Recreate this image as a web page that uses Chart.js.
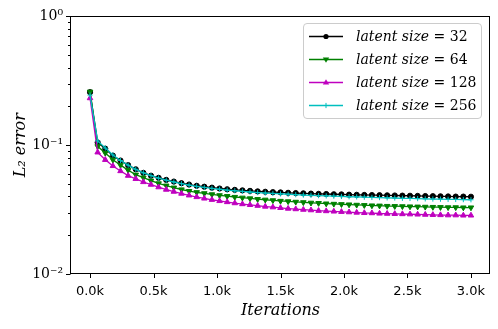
<!DOCTYPE html>
<html>
<head>
<meta charset="utf-8">
<script src="https://cdn.jsdelivr.net/npm/chart.js@4.4.1/dist/chart.umd.min.js"></script>
<style>
  html, body { margin: 0; padding: 0; background: #fff; }
  #wrap { position: relative; width: 498px; height: 329px; }
  #c { position: absolute; left: 0; top: 0; }
  #legend {
    position: absolute; left: 303px; top: 23px; width: 177px; height: 94px;
    border: 1px solid #cccccc; border-radius: 4px; background: rgba(255,255,255,0.8);
    font-family: "DejaVu Serif", serif; font-size: 14px; color: #000;
  }
  .row { position: absolute; left: 0; height: 23px; width: 177px; }
  .row svg { position: absolute; left: 5px; top: 0; }
  .row span { position: absolute; left: 52px; top: 0; line-height: 23px; white-space: nowrap; }
</style>
</head>
<body>
<div id="wrap">
  <canvas id="c" width="498" height="329"></canvas>
  <div id="legend"></div>
</div>
<script>
const iterations = [0,60,120,180,240,300,360,420,480,540,
  600,660,720,780,840,900,960,1020,1080,1140,
  1200,1260,1320,1380,1440,1500,1560,1620,1680,1740,
  1800,1860,1920,1980,2040,2100,2160,2220,2280,2340,
  2400,2460,2520,2580,2640,2700,2760,2820,2880,2940,
  3000];

const latent32 = [0.258, 0.105, 0.094, 0.083, 0.076, 0.070, 0.065, 0.061, 0.058, 0.0558,
  0.0538, 0.0522, 0.0507, 0.0495, 0.0484, 0.0476, 0.0468, 0.0461, 0.0455, 0.0450,
  0.0446, 0.0442, 0.0438, 0.0435, 0.0432, 0.0430, 0.0427, 0.0425, 0.0423, 0.0421,
  0.0419, 0.0418, 0.0416, 0.0415, 0.0413, 0.0412, 0.0411, 0.0410, 0.0409, 0.0408,
  0.0407, 0.0406, 0.0405, 0.0404, 0.0403, 0.0402, 0.0401, 0.0400, 0.0399, 0.0399,
  0.0398];

const latent64 = [0.260, 0.098, 0.087, 0.077, 0.070, 0.064, 0.059, 0.056, 0.053, 0.0505,
  0.0485, 0.0468, 0.0453, 0.0440, 0.0431, 0.0423, 0.0415, 0.0408, 0.0402, 0.0396,
  0.0391, 0.0386, 0.0381, 0.0377, 0.0373, 0.0369, 0.0366, 0.0363, 0.0360, 0.0357,
  0.0355, 0.0352, 0.0350, 0.0348, 0.0346, 0.0344, 0.0342, 0.0340, 0.0339, 0.0337,
  0.0336, 0.0335, 0.0334, 0.0333, 0.0332, 0.0331, 0.0330, 0.0329, 0.0329, 0.0328,
  0.0328];

const latent128 = [0.232, 0.088, 0.077, 0.069, 0.063, 0.058, 0.0548, 0.0518, 0.0494, 0.0472,
  0.0452, 0.0436, 0.0421, 0.0408, 0.0396, 0.0386, 0.0377, 0.0369, 0.0362, 0.0355,
  0.0349, 0.0344, 0.0339, 0.0334, 0.0330, 0.0326, 0.0322, 0.0319, 0.0316, 0.0313,
  0.0310, 0.0308, 0.0306, 0.0304, 0.0302, 0.0300, 0.0298, 0.0297, 0.0295, 0.0294,
  0.0293, 0.0292, 0.0291, 0.0290, 0.0289, 0.0288, 0.0287, 0.0286, 0.0286, 0.0285,
  0.0285];

const latent256 = [0.245, 0.108, 0.095, 0.084, 0.076, 0.070, 0.065, 0.061, 0.058, 0.0555,
  0.0535, 0.0518, 0.0503, 0.0490, 0.0479, 0.0470, 0.0462, 0.0455, 0.0448, 0.0443,
  0.0438, 0.0433, 0.0429, 0.0425, 0.0422, 0.0419, 0.0416, 0.0413, 0.0410, 0.0408,
  0.0406, 0.0404, 0.0402, 0.0400, 0.0398, 0.0397, 0.0395, 0.0393, 0.0392, 0.0390,
  0.0389, 0.0387, 0.0386, 0.0385, 0.0383, 0.0382, 0.0381, 0.0380, 0.0379, 0.0378,
  0.0377];

const latentSizes = ['32', '64', '128', '256'];
const xTickValues = [0, 500, 1000, 1500, 2000, 2500, 3000];
const yMajorTicks = [0.01, 0.1, 1];
const yMinorTicks = [0.02,0.03,0.04,0.05,0.06,0.07,0.08,0.09,0.2,0.3,0.4,0.5,0.6,0.7,0.8,0.9];
const yTickLabels = {'1': '10\u2070', '0.1': '10\u207B\u00B9', '0.01': '10\u207B\u00B2'};

const seriesList = [latent32, latent64, latent128, latent256];
const styles = [
  {color: '#000000', pointStyle: 'circle', radius: 2.6, rotation: 0, order: 3},
  {color: '#008000', pointStyle: 'triangle', radius: 3.2, rotation: 180, order: 2},
  {color: '#bf00bf', pointStyle: 'triangle', radius: 3.2, rotation: 0, order: 1},
  {color: '#00bfbf', pointStyle: 'cross', radius: 2.6, rotation: 0, order: 0}
];

const datasets = seriesList.map((arr, k) => ({
  label: 'latent size = ' + latentSizes[k],
  data: iterations.map((it, i) => ({x: it, y: arr[i]})),
  borderColor: styles[k].color,
  backgroundColor: styles[k].color,
  borderWidth: 1.3,
  pointStyle: styles[k].pointStyle,
  pointRadius: styles[k].radius,
  pointRotation: styles[k].rotation,
  pointBorderWidth: 1,
  pointBorderColor: styles[k].color,
  pointBackgroundColor: styles[k].color,
  tension: 0,
  order: styles[k].order
}));

const framePlugin = {
  id: 'frame',
  afterDatasetsDraw(chart) {
    const {ctx, chartArea: a, scales: {x, y}} = chart;
    ctx.save();
    ctx.strokeStyle = '#000';
    ctx.lineWidth = 1;
    const L = Math.round(a.left) - 0.5, R = Math.round(a.right) - 0.5;
    const T = Math.round(a.top) + 0.5, B = Math.round(a.bottom) - 0.5;
    ctx.strokeRect(L, T, R - L, B - T);
    ctx.beginPath();
    xTickValues.forEach(v => {
      const px = Math.round(x.getPixelForValue(v)) + 0.5;
      ctx.moveTo(px, B); ctx.lineTo(px, B + 4.5);
    });
    yMajorTicks.forEach(v => {
      const py = Math.round(y.getPixelForValue(v)) + 0.5;
      ctx.moveTo(L, py); ctx.lineTo(L - 4.5, py);
    });
    yMinorTicks.forEach(v => {
      const py = Math.round(y.getPixelForValue(v)) + 0.5;
      ctx.moveTo(L, py); ctx.lineTo(L - 2.5, py);
    });
    ctx.stroke();
    ctx.restore();
  }
};

new Chart(document.getElementById('c'), {
  type: 'line',
  data: { datasets },
  options: {
    responsive: false,
    animation: false,
    devicePixelRatio: 1,
    layout: { padding: { left: 0, top: 13, right: 8, bottom: 0 } },
    plugins: { legend: { display: false }, tooltip: { enabled: false } },
    scales: {
      x: {
        type: 'linear',
        min: -150, max: 3150,
        afterBuildTicks: s => { s.ticks = xTickValues.map(v => ({value: v})); },
        afterFit: s => { s.height = 55; },
        grid: { display: false, drawTicks: false },
        border: { display: false },
        ticks: {
          autoSkip: false, maxRotation: 0, padding: 10, color: '#000',
          font: { family: 'DejaVu Sans', size: 13 },
          callback: v => (v / 1000).toFixed(1) + 'k'
        },
        title: {
          display: true, text: 'Iterations', color: '#000',
          font: { family: 'DejaVu Serif', size: 16, style: 'italic' },
          padding: { top: 0, bottom: 9 }
        }
      },
      y: {
        type: 'logarithmic',
        min: 0.01, max: 1,
        afterBuildTicks: s => { s.ticks = yMinorTicks.concat(yMajorTicks).sort((a, b) => a - b).map(v => ({value: v})); },
        afterFit: s => { s.width = 71; },
        grid: { display: false, drawTicks: false },
        border: { display: false },
        ticks: {
          autoSkip: false, padding: 8, color: '#000',
          font: { family: 'DejaVu Serif', size: 14 },
          callback: v => yTickLabels[String(v)] || ''
        },
        title: {
          display: true, text: 'L\u2082 error', color: '#000',
          font: { family: 'DejaVu Serif', size: 16, style: 'italic' },
          padding: { top: 11, bottom: 0 }
        }
      }
    }
  },
  plugins: [framePlugin]
});

// HTML legend
const legend = document.getElementById('legend');
const rowCenters = [12, 35, 58, 81];
latentSizes.forEach((sz, k) => {
  const st = styles[k];
  const row = document.createElement('div');
  row.className = 'row';
  row.style.top = (rowCenters[k] - 11.5) + 'px';
  let marker = '';
  const cx = 17, cy = 11.5;
  if (st.pointStyle === 'circle') {
    marker = `<circle cx="${cx}" cy="${cy}" r="2.6" fill="${st.color}"/>`;
  } else if (st.pointStyle === 'triangle' && st.rotation === 180) {
    marker = `<polygon points="${cx-3.2},${cy-2} ${cx+3.2},${cy-2} ${cx},${cy+3.2}" fill="${st.color}"/>`;
  } else if (st.pointStyle === 'triangle') {
    marker = `<polygon points="${cx-3.2},${cy+2} ${cx+3.2},${cy+2} ${cx},${cy-3.2}" fill="${st.color}"/>`;
  } else {
    marker = `<path d="M${cx-2.6} ${cy} H${cx+2.6} M${cx} ${cy-2.6} V${cy+2.6}" stroke="${st.color}" stroke-width="1"/>`;
  }
  row.innerHTML = `<svg width="34" height="23"><line x1="0" y1="${cy}" x2="34" y2="${cy}" stroke="${st.color}" stroke-width="1.3"/>${marker}</svg>` +
    `<span><i>latent size</i> = ${sz}</span>`;
  legend.appendChild(row);
});
</script>
</body>
</html>
